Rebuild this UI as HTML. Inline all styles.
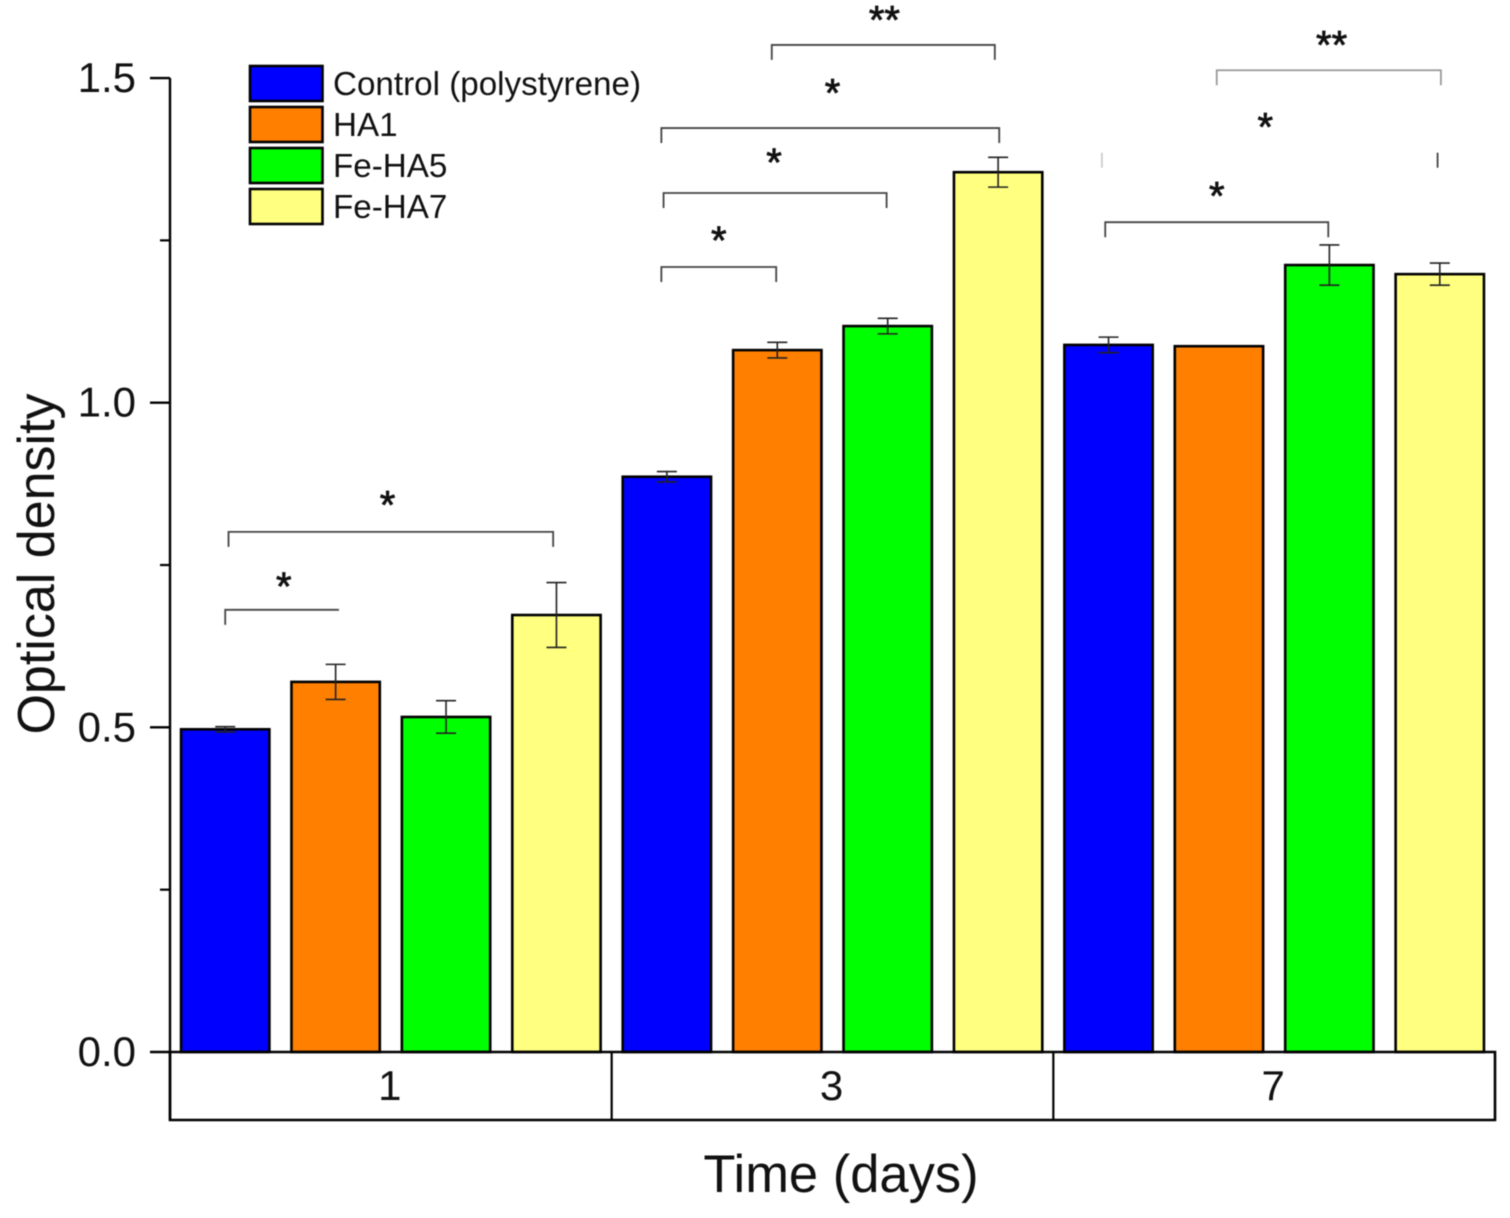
<!DOCTYPE html>
<html lang="en">
<head>
<meta charset="utf-8">
<title>Optical density over time</title>
<style>
html,body{margin:0;padding:0;background:#fff;}
svg{display:block;font-family:"Liberation Sans",Arial,sans-serif;filter:blur(0.5px);}
</style>
</head>
<body>
<svg id="chart" xmlns="http://www.w3.org/2000/svg" width="1510" height="1218" viewBox="0 0 1510 1218"></svg>
<script>
// ---- data ----
const days = ['1', '3', '7'];
const seriesNames = ['Control (polystyrene)', 'HA1', 'Fe-HA5', 'Fe-HA7'];
const seriesControl = [0.497, 0.886, 1.089];
const seriesHA1 = [0.570, 1.081, 1.087];
const seriesFeHA5 = [0.516, 1.118, 1.212];
const seriesFeHA7 = [0.673, 1.355, 1.198];
const errorControl = [0.004, 0.008, 0.012];
const errorHA1 = [0.027, 0.012, 0];
const errorFeHA5 = [0.025, 0.012, 0.031];
const errorFeHA7 = [0.050, 0.023, 0.017];
const majorTicks = [0, 0.5, 1.0, 1.5];
const minorTicks = [0.25, 0.75, 1.25];
// significance annotations: bar positions and levels in OD units
const bracketStarts = [0.50, 0.53, 4.45, 4.47, 4.45, 5.45, 8.47, 9.48];
const bracketEnds = [1.53, 3.47, 5.49, 6.49, 7.51, 7.47, 10.49, 11.51];
const bracketLevels = [0.681, 0.801, 1.209, 1.323, 1.423, 1.551, 1.278, 1.512];
const bracketLabels = ['*', '*', '*', '*', '*', '**', '*', '**'];
const labelPositions = [1.03, 1.97, 4.97, 5.47, 6.0, 6.47, 9.48, 10.52];
const labelLevels = [0.722, 0.848, 1.255, 1.375, 1.482, 1.595, 1.324, 1.556];
// the day-7 middle comparison only shows its two end ticks
const openBracketStart = 8.44;
const openBracketEnd = 11.48;
const openBracketLevel = 1.385;
const openBracketLabel = '*';
const openLabelPosition = 9.92;
const openLabelLevel = 1.43;

// ---- scales ----
const plotLeft = 170, plotRight = 1495, y0 = 1052, yPerUnit = 649.3, bandBottom = 1120;
const barCount = days.length * seriesNames.length;
const step = (plotRight - plotLeft) / barCount;
const yScale = v => y0 - v * yPerUnit;
const xScale = p => plotLeft + p * step;
const colors = ['#0000ff', '#ff8000', '#00ff00', '#ffff80'];
const svg = document.getElementById('chart');
const NS = 'http://www.w3.org/2000/svg';
function mk(tag, attrs, parent) {
  const e = document.createElementNS(NS, tag);
  for (const k in attrs) e.setAttribute(k, attrs[k]);
  (parent || svg).appendChild(e);
  return e;
}

const allValues = [seriesControl, seriesHA1, seriesFeHA5, seriesFeHA7];
const allErrors = [errorControl, errorHA1, errorFeHA5, errorFeHA7];

// ---- bars ----
days.forEach((day, d) => {
  seriesNames.forEach((name, s) => {
    const pos = d * seriesNames.length + s + 0.5;
    const cx = xScale(pos);
    const w = step * 0.8;
    const value = allValues[s][d];
    const top = yScale(value);
    const bar = mk('rect', {x: cx - w / 2, y: top, width: w, height: y0 - top, fill: colors[s], stroke: '#000', 'stroke-width': 2.6});
    
    
    const err = allErrors[s][d];
    if (err > 0) {
      const hi = yScale(value + err), lo = yScale(value - err);
      const eb = mk('path', {d: 'M' + cx + ' ' + hi + 'V' + lo + 'M' + (cx - 10) + ' ' + hi + 'H' + (cx + 10) + 'M' + (cx - 10) + ' ' + lo + 'H' + (cx + 10), stroke: '#222', 'stroke-width': 1.6, fill: 'none'});
      
      
    }
  });
});

// ---- axes ----
const axisColor = '#000';
const yAxis = mk('line', {x1: plotLeft, x2: plotLeft, y1: yScale(1.5), y2: bandBottom, stroke: axisColor, 'stroke-width': 2.4});


majorTicks.forEach(t => {
  const y = yScale(t);
  const tick = mk('line', {x1: plotLeft - 20, x2: plotLeft, y1: y, y2: y, stroke: axisColor, 'stroke-width': 2.4});
  
  
  const label = mk('text', {x: 136, y: y + 14, 'text-anchor': 'end', 'font-size': 42, fill: '#111'});
  label.textContent = t.toFixed(1);
  
  
});
minorTicks.forEach(t => {
  const y = yScale(t);
  const tick = mk('line', {x1: plotLeft - 10, x2: plotLeft, y1: y, y2: y, stroke: axisColor, 'stroke-width': 2.2});
  
  
});

// ---- category band ----
const band = mk('path', {d: 'M' + plotLeft + ' ' + y0 + 'H' + plotRight + 'V' + bandBottom + 'H' + plotLeft + 'Z', fill: 'none', stroke: axisColor, 'stroke-width': 2.6});


days.forEach((day, d) => {
  const groupWidth = (plotRight - plotLeft) / days.length;
  if (d > 0) {
    const x = plotLeft + groupWidth * d;
    const div = mk('line', {x1: x, x2: x, y1: y0, y2: bandBottom, stroke: axisColor, 'stroke-width': 2.2});
    
    
  }
  const label = mk('text', {x: plotLeft + groupWidth * (d + 0.5) - 1, y: 1100, 'text-anchor': 'middle', 'font-size': 42, fill: '#111'});
  label.textContent = day;
  
  
});

// ---- significance brackets ----
const tickDrop = 15;
bracketStarts.forEach((start, i) => {
  const x1 = xScale(start), x2 = xScale(bracketEnds[i]), y = yScale(bracketLevels[i]);
  const br = mk('path', {d: 'M' + x1 + ' ' + (y + tickDrop) + 'V' + y + 'H' + x2 + (i === 0 ? '' : 'V' + (y + tickDrop)), fill: 'none', stroke: i === 7 ? '#999' : '#444', 'stroke-width': 1.8});
  
  
});
bracketLabels.forEach((text, i) => {
  const star = mk('text', {x: xScale(labelPositions[i]), y: yScale(labelLevels[i]) + 17, 'text-anchor': 'middle', 'font-size': 40, fill: '#111', stroke: '#111', 'stroke-width': 0.8});
  star.textContent = text;
  
  
});
[openBracketStart, openBracketEnd].forEach(p => {
  const x = xScale(p), y = yScale(openBracketLevel);
  const t = mk('line', {x1: x, x2: x, y1: y, y2: y + 15, stroke: p === openBracketStart ? '#ccc' : '#444', 'stroke-width': 1.8});
  
  
});
const openStar = mk('text', {x: xScale(openLabelPosition), y: yScale(openLabelLevel) + 17, 'text-anchor': 'middle', 'font-size': 40, fill: '#111', stroke: '#111', 'stroke-width': 0.8});
openStar.textContent = openBracketLabel;



// ---- legend ----
seriesNames.forEach((name, s) => {
  const top = 66 + s * 41;
  const g = mk('g', {});
  
  
  mk('rect', {x: 250, y: top, width: 72.5, height: 35, fill: colors[s], stroke: '#000', 'stroke-width': 2.6}, g);
  const t = mk('text', {x: 333, y: top + 29, 'font-size': 33.2, fill: '#111'}, g);
  t.textContent = name;
});

// ---- axis titles ----
const xTitle = mk('text', {x: 841, y: 1192, 'text-anchor': 'middle', 'font-size': 52.5, fill: '#111'});
xTitle.textContent = 'Time (days)';


const yTitle = mk('text', {x: 0, y: 0, transform: 'translate(54 564) rotate(-90)', 'text-anchor': 'middle', 'font-size': 52, fill: '#111'});
yTitle.textContent = 'Optical density';


</script>
</body>
</html>
